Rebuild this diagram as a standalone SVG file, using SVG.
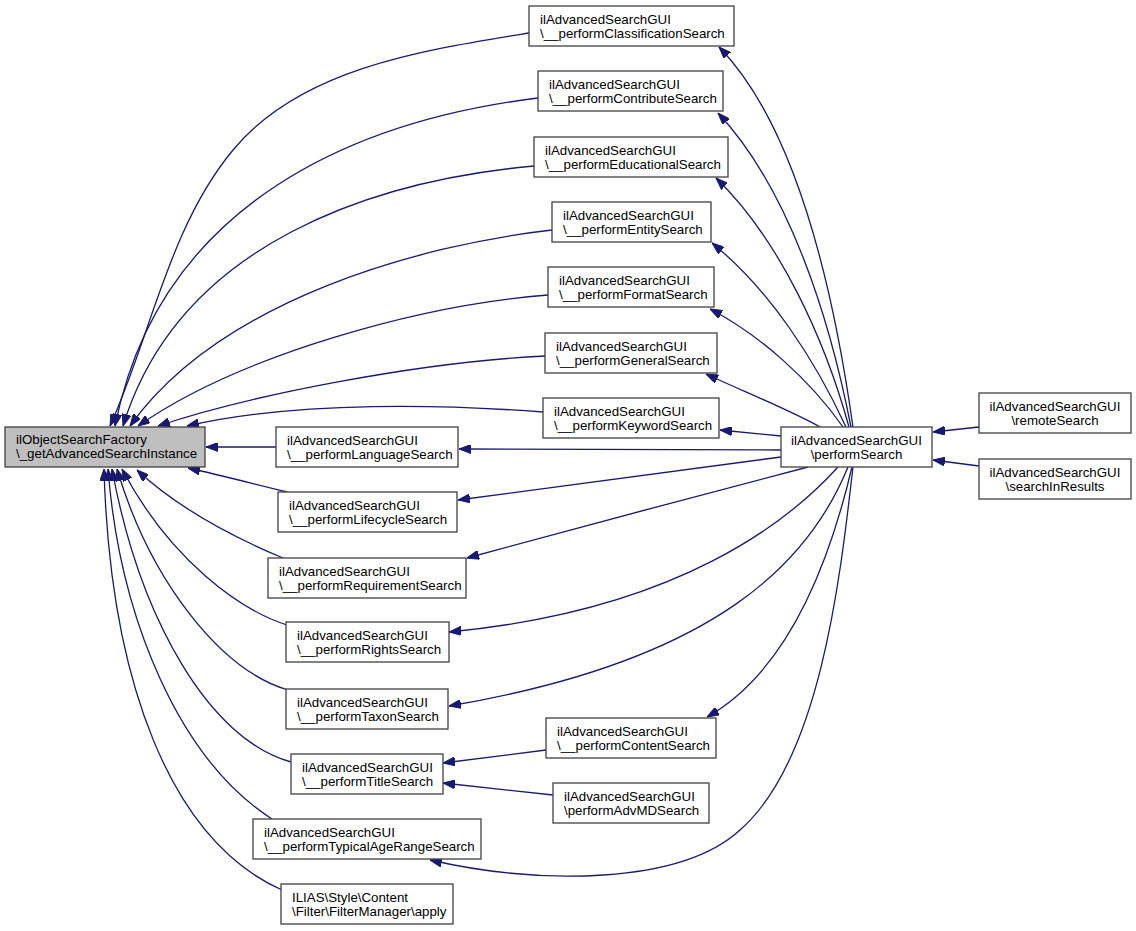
<svg xmlns="http://www.w3.org/2000/svg" width="1136" height="931" viewBox="0 0 1136 931">
<style>
.node rect{fill:#ffffff;stroke:#404040;stroke-width:1.3}
.node.root rect{fill:#bfbfbf}
.node text{font-family:"Liberation Sans",Arial,sans-serif;font-size:13.3px;fill:#000000}
.edges path{fill:none;stroke:#191970;stroke-width:1.3;marker-end:url(#arr)}
</style>
<defs>
<marker id="arr" viewBox="0 0 12 9" refX="12" refY="4.5" markerWidth="12" markerHeight="9" markerUnits="userSpaceOnUse" orient="auto">
<path d="M0,0 L12,4.5 L0,9 z" fill="#191970" stroke="#191970" stroke-width="1"/>
</marker>
</defs>
<rect width="1136" height="931" fill="#ffffff"/>
<g class="edges">
<path d="M529,33 C424,50 301,68 233,150 C169,227 151,335 110,426"/>
<path d="M538,98 C360,120 160,200 115,426"/>
<path d="M534,166 C380,180 180,240 123,426"/>
<path d="M552,230 C420,245 220,300 130,426"/>
<path d="M548,295 C420,305 240,355 138,426"/>
<path d="M545,356 C420,362 250,395 158,426"/>
<path d="M543,412 C450,405 300,400 187,426"/>
<path d="M276,447 L206,447"/>
<path d="M287,492 C250,483 220,475 188,468"/>
<path d="M283,558 C240,540 180,510 137,470"/>
<path d="M287,625 C240,610 170,560 122,469"/>
<path d="M288,690 C220,670 150,580 117,469"/>
<path d="M291,762 C210,740 140,620 112,469"/>
<path d="M272,819 C180,760 120,620 108,469"/>
<path d="M282,890 C170,840 110,680 104,469"/>
<path d="M853,427 C835,300 800,130 719,47"/>
<path d="M851,427 C830,320 790,190 718,113"/>
<path d="M849,427 C825,340 780,240 716,178"/>
<path d="M846,427 C815,360 770,290 712,243"/>
<path d="M843,427 C810,380 760,335 710,309"/>
<path d="M820,427 C790,410 740,390 706,374"/>
<path d="M781,436 L720,430"/>
<path d="M781,450 L459,449"/>
<path d="M781,457 L458,500"/>
<path d="M808,467 C700,495 570,530 467,558"/>
<path d="M838,467 C790,520 680,610 449,632"/>
<path d="M848,467 C810,560 720,660 449,706"/>
<path d="M852,467 C830,560 790,670 707,717"/>
<path d="M853,467 C840,580 820,760 740,830 C680,885 540,885 430,860"/>
<path d="M979,427 L933,432"/>
<path d="M979,466 L933,460"/>
<path d="M546,750 L443,763"/>
<path d="M553,795 L443,783"/>
</g>
<g id="n0" class="node root"><rect x="5" y="427" width="200" height="40"/><text x="16" y="444">ilObjectSearchFactory</text><text x="16" y="458">\_getAdvancedSearchInstance</text></g>
<g id="n1" class="node"><rect x="529" y="6" width="205" height="40"/><text x="540" y="24">ilAdvancedSearchGUI</text><text x="540" y="38">\__performClassificationSearch</text></g>
<g id="n2" class="node"><rect x="538" y="71" width="185" height="40"/><text x="549" y="89">ilAdvancedSearchGUI</text><text x="549" y="103">\__performContributeSearch</text></g>
<g id="n3" class="node"><rect x="534" y="137" width="194" height="40"/><text x="545" y="155">ilAdvancedSearchGUI</text><text x="545" y="169">\__performEducationalSearch</text></g>
<g id="n4" class="node"><rect x="552" y="202" width="159" height="40"/><text x="563" y="220">ilAdvancedSearchGUI</text><text x="563" y="234">\__performEntitySearch</text></g>
<g id="n5" class="node"><rect x="548" y="267" width="166" height="40"/><text x="559" y="285">ilAdvancedSearchGUI</text><text x="559" y="299">\__performFormatSearch</text></g>
<g id="n6" class="node"><rect x="545" y="333" width="172" height="40"/><text x="556" y="351">ilAdvancedSearchGUI</text><text x="556" y="365">\__performGeneralSearch</text></g>
<g id="n7" class="node"><rect x="543" y="398" width="176" height="40"/><text x="554" y="416">ilAdvancedSearchGUI</text><text x="554" y="430">\__performKeywordSearch</text></g>
<g id="n8" class="node"><rect x="276" y="427" width="182" height="40"/><text x="287" y="445">ilAdvancedSearchGUI</text><text x="287" y="459">\__performLanguageSearch</text></g>
<g id="n9" class="node"><rect x="278" y="492" width="179" height="40"/><text x="289" y="510">ilAdvancedSearchGUI</text><text x="289" y="524">\__performLifecycleSearch</text></g>
<g id="n10" class="node"><rect x="268" y="558" width="198" height="40"/><text x="279" y="576">ilAdvancedSearchGUI</text><text x="279" y="590">\__performRequirementSearch</text></g>
<g id="n11" class="node"><rect x="286" y="622" width="163" height="40"/><text x="297" y="640">ilAdvancedSearchGUI</text><text x="297" y="654">\__performRightsSearch</text></g>
<g id="n12" class="node"><rect x="286" y="689" width="162" height="40"/><text x="297" y="707">ilAdvancedSearchGUI</text><text x="297" y="721">\__performTaxonSearch</text></g>
<g id="n13" class="node"><rect x="291" y="754" width="152" height="40"/><text x="302" y="772">ilAdvancedSearchGUI</text><text x="302" y="786">\__performTitleSearch</text></g>
<g id="n14" class="node"><rect x="253" y="819" width="228" height="40"/><text x="264" y="837">ilAdvancedSearchGUI</text><text x="264" y="851">\__performTypicalAgeRangeSearch</text></g>
<g id="n15" class="node"><rect x="281" y="884" width="172" height="40"/><text x="292" y="902">ILIAS\Style\Content</text><text x="292" y="916">\Filter\FilterManager\apply</text></g>
<g id="n16" class="node"><rect x="546" y="718" width="170" height="40"/><text x="557" y="736">ilAdvancedSearchGUI</text><text x="557" y="750">\__performContentSearch</text></g>
<g id="n17" class="node"><rect x="553" y="783" width="156" height="40"/><text x="564" y="801">ilAdvancedSearchGUI</text><text x="564" y="815">\performAdvMDSearch</text></g>
<g id="n18" class="node"><rect x="781" y="427" width="151" height="40"/><text x="856.5" y="445" text-anchor="middle">ilAdvancedSearchGUI</text><text x="856.5" y="459" text-anchor="middle">\performSearch</text></g>
<g id="n19" class="node"><rect x="979" y="393" width="152" height="40"/><text x="1055" y="411" text-anchor="middle">ilAdvancedSearchGUI</text><text x="1055" y="425" text-anchor="middle">\remoteSearch</text></g>
<g id="n20" class="node"><rect x="979" y="459" width="152" height="40"/><text x="1055" y="477" text-anchor="middle">ilAdvancedSearchGUI</text><text x="1055" y="491" text-anchor="middle">\searchInResults</text></g>
</svg>
